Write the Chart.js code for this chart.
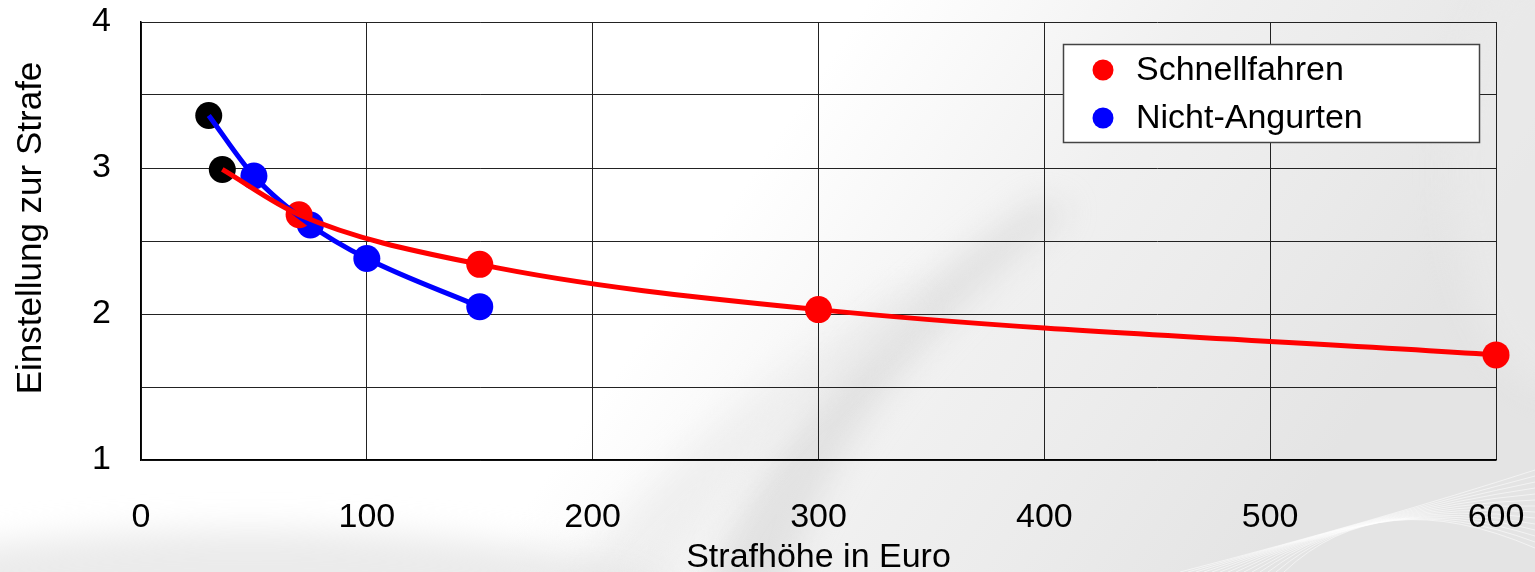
<!DOCTYPE html>
<html>
<head>
<meta charset="utf-8">
<script src="https://cdn.jsdelivr.net/npm/chart.js@4"></script>
<style>
  html, body { margin: 0; padding: 0; background: #ffffff; }
  #wrap { width: 1535px; height: 572px; position: relative; }
</style>
</head>
<body>
<div id="wrap"><canvas id="chart" width="1535" height="572"></canvas></div>
<script>
// Fine amount (Euro) and attitude score per offence type
const seriesNames = ['Schnellfahren', 'Nicht-Angurten'];
const speedFines = [36, 70, 150, 300, 600];
const speedAttitude = [2.99, 2.68, 2.34, 2.03, 1.72];
const beltFines = [30, 50, 75, 100, 150];
const beltAttitude = [3.36, 2.945, 2.61, 2.38, 2.05];
const xTicks = [0, 100, 200, 300, 400, 500, 600];
const yTicks = [1, 2, 3, 4];
const yTitle = 'Einstellung zur Strafe';
const xTitle = 'Strafhöhe in Euro';

const RED = '#ff0000';
const BLUE = '#0000ff';
const FONT = '"Liberation Sans", Arial, sans-serif';

const toPoints = (xs, ys) => xs.map((x, i) => ({ x: x, y: ys[i] }));
// first observation of each series is shown in black
const firstBlack = (n, c) => Array.from({ length: n }, (_, i) => (i === 0 ? '#000000' : c));

// soft grey backdrop with curved streaks
const backdrop = {
  id: 'backdrop',
  beforeDraw(chart) {
    const ctx = chart.ctx;
    const w = chart.width, h = chart.height;
    ctx.save();
    ctx.fillStyle = '#ffffff';
    ctx.fillRect(0, 0, w, h);
    // general haze toward the lower right
    let g = ctx.createLinearGradient(720, 220, 1250, 580);
    g.addColorStop(0, 'rgba(236,236,236,0)');
    g.addColorStop(0.45, 'rgba(236,236,236,0.8)');
    g.addColorStop(1, 'rgba(228,228,228,1)');
    ctx.fillStyle = g;
    ctx.fillRect(0, 0, w, h);
    ctx.filter = 'blur(16px)';
    // darker curved streak
    ctx.beginPath();
    ctx.moveTo(700, 600);
    ctx.bezierCurveTo(760, 450, 860, 320, 1040, 200);
    ctx.lineTo(1070, 210);
    ctx.bezierCurveTo(910, 340, 820, 460, 780, 600);
    ctx.closePath();
    ctx.fillStyle = 'rgba(205,205,205,0.45)';
    ctx.fill();
    // lighter swoosh beside it
    ctx.beginPath();
    ctx.moveTo(560, 600);
    ctx.bezierCurveTo(640, 480, 760, 380, 900, 290);
    ctx.lineTo(930, 310);
    ctx.bezierCurveTo(800, 410, 720, 490, 660, 600);
    ctx.closePath();
    ctx.fillStyle = 'rgba(234,234,234,0.6)';
    ctx.fill();
    // bottom-left haze
    ctx.beginPath();
    ctx.ellipse(250, 600, 420, 70, 0, 0, Math.PI * 2);
    ctx.fillStyle = 'rgba(228,228,228,0.75)';
    ctx.fill();
    // upper-right haze
    ctx.beginPath();
    ctx.ellipse(1560, 170, 110, 220, 0, 0, Math.PI * 2);
    ctx.fillStyle = 'rgba(234,234,234,0.75)';
    ctx.fill();
    ctx.filter = 'none';
    // fine stripes in the lower-right corner
    ctx.strokeStyle = 'rgba(255,255,255,0.55)';
    ctx.lineWidth = 1;
    for (let i = 0; i < 14; i++) {
      ctx.beginPath();
      ctx.moveTo(1180 + i * 8, 572);
      ctx.quadraticCurveTo(1380, 520 - i * 3, 1535, 470 + i * 6);
      ctx.stroke();
    }
    ctx.restore();
  }
};

// framed legend inside the plot, upper right, plus the rotated y title
const boxLegend = {
  id: 'boxLegend',
  afterDraw(chart) {
    const ctx = chart.ctx;
    const x = 1063, y = 44, w = 416, h = 98;
    ctx.save();
    ctx.fillStyle = '#ffffff';
    ctx.fillRect(x, y, w, h);
    ctx.strokeStyle = '#444444';
    ctx.lineWidth = 1.5;
    ctx.strokeRect(x + 0.5, y + 0.5, w, h);
    const colors = [RED, BLUE];
    ctx.font = '34px ' + FONT;
    ctx.textBaseline = 'middle';
    seriesNames.forEach((name, i) => {
      const cy = y + 26 + i * 48;
      ctx.beginPath();
      ctx.arc(x + 40, cy, 10.5, 0, Math.PI * 2);
      ctx.fillStyle = colors[i];
      ctx.fill();
      ctx.fillStyle = '#000000';
      ctx.fillText(name, x + 73, cy + 1);
    });
    // y axis title
    ctx.translate(31, 228);
    ctx.rotate(-Math.PI / 2);
    ctx.textAlign = 'center';
    ctx.font = '35px ' + FONT;
    ctx.fillStyle = '#000000';
    ctx.fillText(yTitle, 0, 0);
    ctx.restore();
  }
};

const lineStyle = {
  showLine: true,
  pointRadius: 0,
  pointHoverRadius: 0,
  borderWidth: 5,
  cubicInterpolationMode: 'monotone',
  fill: false,
  clip: false
};
const dotStyle = {
  showLine: false,
  pointRadius: 13.5,
  pointHoverRadius: 13.5,
  pointBorderWidth: 0,
  clip: false
};

new Chart(document.getElementById('chart'), {
  type: 'scatter',
  data: {
    datasets: [
      Object.assign({ label: seriesNames[0], data: toPoints(speedFines, speedAttitude), borderColor: RED, order: 0 }, lineStyle),
      Object.assign({ label: seriesNames[1], data: toPoints(beltFines, beltAttitude), borderColor: BLUE, order: 1 }, lineStyle),
      Object.assign({ label: seriesNames[0], data: toPoints(speedFines, speedAttitude),
        pointBackgroundColor: firstBlack(speedFines.length, RED), order: 2 }, dotStyle),
      Object.assign({ label: seriesNames[1], data: toPoints(beltFines, beltAttitude),
        pointBackgroundColor: firstBlack(beltFines.length, BLUE), order: 3 }, dotStyle)
    ]
  },
  options: {
    responsive: false,
    animation: false,
    events: [],
    layout: { padding: { left: 0, right: 39, top: 22, bottom: 0 } },
    plugins: { legend: { display: false }, tooltip: { enabled: false } },
    scales: {
      x: {
        type: 'linear',
        min: 0, max: 600,
        afterBuildTicks: (s) => { s.ticks = xTicks.map(v => ({ value: v })); },
        afterFit: (s) => { s.height = 112; s.paddingLeft = 0; s.paddingRight = 0; },
        ticks: { color: '#000000', font: { family: FONT, size: 34 }, padding: 37, maxRotation: 0 },
        grid: { color: '#222222', lineWidth: 1, drawTicks: false },
        border: { color: '#000000', width: 1.5 },
        title: { display: true, text: xTitle, color: '#000000',
          font: { family: FONT, size: 34, lineHeight: 1 }, padding: { top: 0, bottom: -3 } }
      },
      y: {
        type: 'linear',
        min: 1, max: 4,
        ticks: {
          stepSize: 0.5,
          color: '#000000',
          font: { family: FONT, size: 34 },
          padding: 30,
          callback: (v) => (yTicks.includes(v) ? String(v) : '')
        },
        afterFit: (s) => { s.width = 141; s.paddingTop = 0; s.paddingBottom = 0; },
        grid: { color: '#222222', lineWidth: 1, drawTicks: false },
        border: { color: '#000000', width: 1.5 },
        title: { display: false }
      }
    }
  },
  plugins: [backdrop, boxLegend]
});
</script>
</body>
</html>
